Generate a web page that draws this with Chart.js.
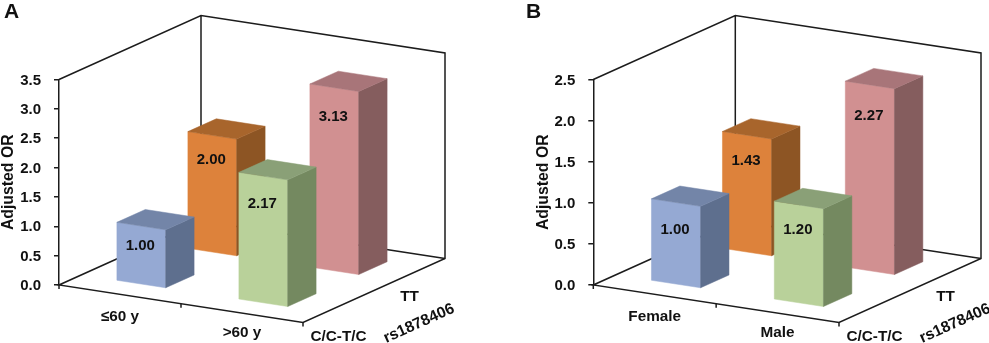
<!DOCTYPE html>
<html>
<head>
<meta charset="utf-8">
<script src="https://cdn.jsdelivr.net/npm/chart.js@4"></script>
<style>
    html, body { margin: 0; padding: 0; background: #fff; }
    canvas { position: absolute; top: 0; }
    #chartA { left: 0; }
    #chartB { left: 494px; }
</style>
</head>
<body>
<canvas id="chartA" width="494" height="343"></canvas>
<canvas id="chartB" width="495" height="343"></canvas>
<script>
var ageGroups = ['≤60 y', '>60 y'];
var sexGroups = ['Female', 'Male'];
var genotypes = ['C/C-T/C', 'TT'];

var ageCT = [1.00, 2.17];
var ageTT = [2.00, 3.13];
var sexCT = [1.00, 1.20];
var sexTT = [1.43, 2.27];

var FONT = '"Liberation Sans", Arial, sans-serif';
var LINE = '#1c1c1c';

// the picture is a parallel projection: these are the floor edges in pixels
var WIDTH_RISE = 37.5;
var DEPTH_X = 142;
var DEPTH_Y = -64;

// Chart.js lays out the front plane, this shears it and pushes it back by depth
function project(chart, px, py, depth) {
    var area = chart.chartArea;
    return {
        x: px + depth * DEPTH_X,
        y: py + (px - area.left) / area.width * WIDTH_RISE + depth * DEPTH_Y
    };
}

function fillPoly(ctx, pts, color) {
    ctx.fillStyle = color;
    ctx.strokeStyle = color;
    ctx.lineWidth = 0.5;
    ctx.beginPath();
    pts.forEach(function (p, i) {
        if (i === 0) ctx.moveTo(p.x, p.y);
        else ctx.lineTo(p.x, p.y);
    });
    ctx.closePath();
    ctx.fill();
    ctx.stroke();
}

function depthOf(chart, label) {
    var z = chart.scales.z;
    return (z.getPixelForValue(z.getLabels().indexOf(label)) - z.left) / z.width;
}

var box3d = {
    id: 'box3d',
    beforeDatasetsDraw: function (chart) {
        var ctx = chart.ctx;
        var a = chart.chartArea;
        var p = function (x, y, d) { return project(chart, x, y, d); };
        var walls = [p(a.left, a.top, 0), p(a.left, a.top, 1), p(a.right, a.top, 1), p(a.right, a.bottom, 1), p(a.right, a.bottom, 0), p(a.left, a.bottom, 0), p(a.left, a.bottom, 1), p(a.left, a.top, 1)];
        ctx.save();
        ctx.strokeStyle = LINE;
        ctx.lineWidth = 1.5;
        ctx.beginPath();
        walls.forEach(function (q, i) {
            if (i === 0) ctx.moveTo(q.x, q.y);
            else ctx.lineTo(q.x, q.y);
        });
        ctx.stroke();
        // back right edge meets the floor
        var back = p(a.right, a.bottom, 1);
        var floor = p(a.left, a.bottom, 1);
        ctx.beginPath();
        ctx.moveTo(floor.x, floor.y);
        ctx.lineTo(back.x, back.y);
        ctx.stroke();
        // ticks along the front edge
        [a.left, (a.left + a.right) / 2, a.right].forEach(function (x) {
            var q = p(x, a.bottom, 0);
            ctx.beginPath();
            ctx.moveTo(q.x, q.y);
            ctx.lineTo(q.x, q.y + 4);
            ctx.stroke();
        });
        ctx.restore();
    },
    // the flat rectangle is replaced by a box built from the element's own geometry
    beforeDatasetDraw: function (chart, args) {
        var ctx = chart.ctx;
        var ds = chart.data.datasets[args.index];
        var d0 = depthOf(chart, ds.label);
        args.meta.data.forEach(function (bar, i) {
            var l = bar.x - bar.width / 2;
            var r = bar.x + bar.width / 2;
            var depth = bar.width / chart.chartArea.width;
            var d1 = d0 - depth / 2;
            var d2 = d0 + depth / 2;
            var flt = project(chart, l, bar.y, d1);
            var frt = project(chart, r, bar.y, d1);
            var flb = project(chart, l, bar.base, d1);
            var frb = project(chart, r, bar.base, d1);
            var brt = project(chart, r, bar.y, d2);
            var brb = project(chart, r, bar.base, d2);
            var blt = project(chart, l, bar.y, d2);
            ctx.save();
            fillPoly(ctx, [flt, frt, frb, flb], bar.options.backgroundColor);
            fillPoly(ctx, [frt, brt, brb, frb], ds.sideColor[i]);
            fillPoly(ctx, [flt, frt, brt, blt], ds.topColor[i]);
            ctx.restore();
        });
        return false;
    },
    afterDatasetsDraw: function (chart, args, opts) {
        var ctx = chart.ctx;
        var a = chart.chartArea;
        ctx.save();
        ctx.fillStyle = '#111';
        ctx.textAlign = 'center';
        ctx.textBaseline = 'middle';

        // values on the front faces
        ctx.font = 'bold 15px ' + FONT;
        chart.data.datasets.forEach(function (ds, di) {
            var d0 = depthOf(chart, ds.label);
            chart.getDatasetMeta(di).data.forEach(function (bar, i) {
                var depth = bar.width / a.width;
                var q = project(chart, bar.x, bar.y, d0 - depth / 2);
                ctx.fillText(ds.data[i].toFixed(2), q.x - 1, q.y + opts.labelDrop[di][i]);
            });
        });

        // category and depth labels follow the floor edges
        ctx.font = 'bold 15.3px ' + FONT;
        chart.data.labels.forEach(function (label, i) {
            var q = project(chart, chart.scales.x.getPixelForValue(i), a.bottom, 0);
            ctx.fillText(label, q.x, q.y + (i === 0 ? 22 : 20));
        });
        genotypes.forEach(function (label, i) {
            var q = project(chart, a.right, a.bottom, depthOf(chart, label));
            ctx.fillText(label, q.x, q.y + (i === 0 ? 30 : 22));
        });

        // depth axis title, rotated with the edge
        var corner = project(chart, a.right, a.bottom, 0);
        ctx.save();
        ctx.translate(corner.x + 116, corner.y + 1);
        ctx.rotate(Math.atan2(DEPTH_Y, DEPTH_X));
        ctx.font = 'bold 15.7px ' + FONT;
        ctx.fillText('rs1878406', 0, 0);
        ctx.restore();

        // panel letter
        ctx.textAlign = 'left';
        ctx.textBaseline = 'alphabetic';
        ctx.font = 'bold 21px ' + FONT;
        ctx.fillText(opts.letter, opts.letterX, 17.5);
        ctx.restore();
    }
};

function makeChart(id, cats, ctVals, ttVals, yMax, padLeft, padRight, letter, letterX, labelDrop) {
    return new Chart(document.getElementById(id), {
        type: 'bar',
        data: {
            labels: cats,
            datasets: [{
                label: genotypes[0],
                data: ctVals,
                backgroundColor: ['#95a9d3', '#b9d19a'],
                topColor: ['#7385a8', '#8aa077'],
                sideColor: ['#5e6f8e', '#748960']
            }, {
                label: genotypes[1],
                data: ttVals,
                backgroundColor: ['#dd823b', '#d19091'],
                topColor: ['#a8652c', '#a87579'],
                sideColor: ['#8d5524', '#855d5e']
            }]
        },
        options: {
            responsive: false,
            animation: false,
            grouped: false,
            barPercentage: 0.4,
            categoryPercentage: 1,
            layout: {
                padding: { left: padLeft, right: padRight, top: 79.5, bottom: 58 }
            },
            scales: {
                x: { display: false },
                z: { type: 'category', axis: 'x', labels: genotypes, offset: true, display: false },
                y: {
                    min: 0,
                    max: yMax,
                    afterFit: function (scale) { scale.width = 59; },
                    border: { color: LINE, width: 1.5 },
                    grid: { drawOnChartArea: false, color: LINE, lineWidth: 1.5, tickLength: 5 },
                    ticks: {
                        stepSize: 0.5,
                        padding: 13,
                        labelOffset: 1,
                        color: '#111',
                        font: { family: FONT, size: 15, weight: 'bold' },
                        callback: function (v) { return v.toFixed(1); }
                    },
                    title: {
                        display: true,
                        text: 'Adjusted OR',
                        color: '#111',
                        padding: { top: 1, bottom: 0 },
                        font: { family: FONT, size: 15.8, weight: 'bold', lineHeight: 1 }
                    }
                }
            },
            plugins: {
                legend: { display: false },
                tooltip: { enabled: false },
                box3d: { letter: letter, letterX: letterX, labelDrop: labelDrop }
            }
        },
        plugins: [box3d]
    });
}

makeChart('chartA', ageGroups, ageCT, ageTT, 3.5, 0, 191, 'A', 4, [[20, 28], [25, 29]]);
makeChart('chartB', sexGroups, sexCT, sexTT, 2.5, 40.3, 150, 'B', 32, [[27, 25], [26, 31]]);
</script>
</body>
</html>
